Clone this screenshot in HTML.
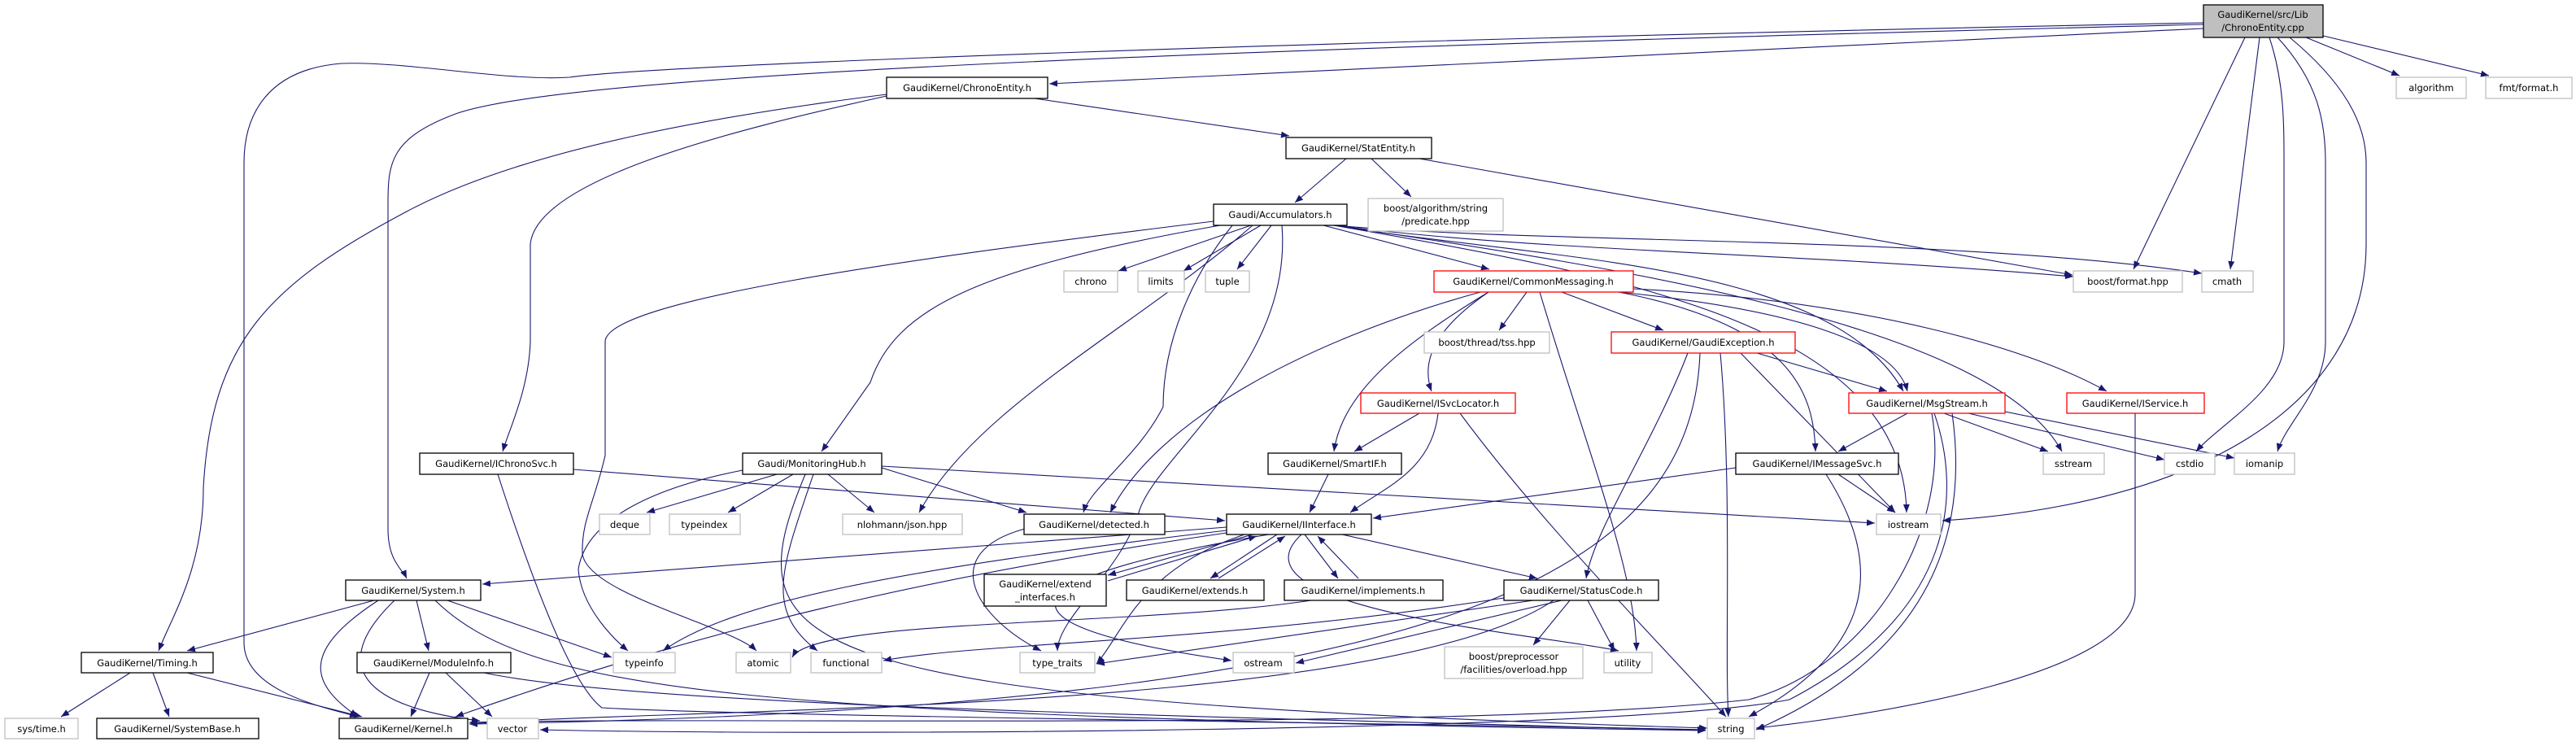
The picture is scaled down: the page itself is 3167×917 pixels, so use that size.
<!DOCTYPE html>
<html><head><meta charset="utf-8"><style>
html,body{margin:0;padding:0;background:#fff}
svg{display:block}
text{font-family:"DejaVu Sans","Liberation Sans",sans-serif;font-size:11.5px;fill:#000}
.e{fill:none;stroke:#191970;stroke-width:1.1}
.b{fill:#fff;stroke:#000;stroke-width:1.3}
.g{fill:#fff;stroke:#bfbfbf;stroke-width:1.3}
.r{fill:#fff;stroke:#ff0000;stroke-width:1.3}
</style></head><body>
<svg width="3167" height="917" viewBox="0 0 3167 917" xmlns="http://www.w3.org/2000/svg">
<defs><marker id="a" markerWidth="10" markerHeight="8" refX="10" refY="4" orient="auto" markerUnits="userSpaceOnUse"><path d="M0,0 L10,4 L0,8 z" fill="#191970"/></marker></defs>
<g class="e" marker-end="url(#a)">
<path d="M2709,35 L1290,103"/>
<path d="M2709,30 C1500,60 700,90 560,140 C480,170 477,200 477,250 L477,650 C477,690 495,700 500,711"/>
<path d="M2709,28 C1600,50 800,80 700,95 C620,100 500,75 420,78 C330,85 300,140 300,200 L300,790 C300,850 400,870 440,881"/>
<path d="M2760,46 L2623,331"/>
<path d="M2778,46 L2742,331"/>
<path d="M2790,46 C2808,100 2808,150 2808,200 L2808,420 C2808,480 2730,520 2700,555"/>
<path d="M2800,46 C2850,100 2859,150 2859,200 L2859,420 C2859,480 2810,520 2800,555"/>
<path d="M2815,46 C2880,100 2909,150 2909,200 L2909,300 C2909,500 2700,620 2388,640"/>
<path d="M2835,46 L2950,93"/>
<path d="M2856,44 L3060,93"/>
<path d="M1272,121 L1585,167"/>
<path d="M1090,116 C900,140 650,180 500,260 C330,350 260,420 250,600 C250,700 210,760 195,800"/>
<path d="M1090,118 C900,160 660,220 652,300 L652,420 C650,480 625,530 618,555"/>
<path d="M1655,195 L1592,249"/>
<path d="M1686,195 L1735,242"/>
<path d="M1745,195 L2548,338"/>
<path d="M1538,277 L1375,333"/>
<path d="M1550,277 L1455,333"/>
<path d="M1563,277 L1521,331"/>
<path d="M1627,277 L1831,331"/>
<path d="M1500,277 C1200,330 1100,380 1070,470 L1010,555"/>
<path d="M1492,272 C1100,320 745,370 744,420 L744,560 C730,620 715,640 716,680 C720,730 900,770 930,800"/>
<path d="M1515,277 C1465,340 1430,420 1430,500 C1400,560 1340,600 1332,630"/>
<path d="M1540,277 C1400,400 1200,500 1130,630"/>
<path d="M1576,277 C1590,450 1420,560 1400,630 C1380,700 1300,760 1300,800"/>
<path d="M1640,277 C1900,310 2200,310 2549,340"/>
<path d="M1640,277 C1900,300 2400,290 2707,336"/>
<path d="M1640,277 C1900,320 2250,320 2340,481"/>
<path d="M1640,277 C2000,330 2450,400 2535,555"/>
<path d="M1640,277 C2000,340 2340,400 2344,630"/>
<path d="M1877,359 L1843,406"/>
<path d="M1920,359 L2045,406"/>
<path d="M1830,359 C1770,400 1745,440 1760,481"/>
<path d="M1830,359 C1730,420 1650,480 1640,555"/>
<path d="M1990,359 C2200,380 2330,420 2345,481"/>
<path d="M1990,359 C2200,400 2230,480 2232,555"/>
<path d="M2008,355 C2300,370 2500,430 2590,481"/>
<path d="M1820,359 C1600,420 1420,520 1365,630"/>
<path d="M1893,359 C1950,550 2010,700 2012,800"/>
<path d="M2160,434 L2320,481"/>
<path d="M2075,434 C2030,550 1960,650 1950,711"/>
<path d="M2140,434 L2330,630"/>
<path d="M2115,434 C2130,600 2120,800 2125,881"/>
<path d="M2090,434 C2080,700 1800,870 577,890"/>
<path d="M1745,508 L1665,555"/>
<path d="M1768,508 C1760,580 1700,600 1660,630"/>
<path d="M1795,508 C1900,650 2050,800 2122,881"/>
<path d="M1633,583 L1610,630"/>
<path d="M2134,575 L1688,637"/>
<path d="M2260,583 L2330,630"/>
<path d="M2245,583 C2320,700 2300,800 2150,881"/>
<path d="M2345,508 L2260,555"/>
<path d="M2390,508 L2518,555"/>
<path d="M2420,508 L2661,565"/>
<path d="M2460,505 L2747,563"/>
<path d="M2400,508 C2420,650 2380,800 2159,897"/>
<path d="M2378,508 C2410,600 2410,750 2200,860 C2000,900 1000,905 664,897"/>
<path d="M2375,508 C2400,650 2300,820 2150,860 C1800,900 900,880 577,888"/>
<path d="M2625,508 L2625,730 C2625,830 2300,880 2159,895"/>
<path d="M955,583 L795,630"/>
<path d="M975,583 L895,630"/>
<path d="M1018,583 L1075,630"/>
<path d="M1084,575 L1262,630"/>
<path d="M913,578 C800,600 720,640 711,700 C715,750 760,790 772,800"/>
<path d="M1000,583 C960,700 940,750 1005,800"/>
<path d="M990,583 C900,800 950,860 2099,895"/>
<path d="M1084,573 L2305,643"/>
<path d="M705,577 L1506,640"/>
<path d="M612,583 C650,700 700,840 740,870 C900,880 1800,890 2097,897"/>
<path d="M1508,648 L593,718"/>
<path d="M1540,657 L1362,707"/>
<path d="M1362,714 L1545,659"/>
<path d="M1570,657 L1488,711"/>
<path d="M1498,711 L1580,659"/>
<path d="M1604,657 L1645,711"/>
<path d="M1670,711 L1620,659"/>
<path d="M1650,657 L1890,711"/>
<path d="M1530,657 C1400,700 1380,780 1348,816"/>
<path d="M1560,657 C1300,700 1150,760 1514,812"/>
<path d="M1508,652 C1100,700 900,740 815,800"/>
<path d="M1508,655 C1200,700 900,760 560,881"/>
<path d="M1600,657 C1500,750 1900,780 1990,800"/>
<path d="M1612,738 C1400,770 1000,760 974,808"/>
<path d="M1930,738 L1885,793"/>
<path d="M1952,738 L1985,800"/>
<path d="M1885,738 L1348,816"/>
<path d="M1920,738 L1593,815"/>
<path d="M1849,735 C1500,790 1200,790 1086,812"/>
<path d="M1910,738 C1700,880 800,870 577,890"/>
<path d="M1260,650 C1150,680 1200,760 1280,800"/>
<path d="M460,738 L230,800"/>
<path d="M512,738 L527,800"/>
<path d="M550,738 L752,808"/>
<path d="M465,738 C370,800 380,840 440,881"/>
<path d="M485,738 C400,820 450,870 590,886"/>
<path d="M535,738 C650,850 900,880 2097,898"/>
<path d="M160,827 L75,881"/>
<path d="M188,827 L208,881"/>
<path d="M230,827 L445,881"/>
<path d="M528,827 L505,881"/>
<path d="M548,827 L605,881"/>
<path d="M595,827 C800,870 1500,880 2097,898"/>
</g>
<g text-anchor="middle">
<rect x="2709" y="6" width="147" height="40" fill="#bfbfbf" stroke="#000" stroke-width="1.3"/><text x="2782" y="22">GaudiKernel/src/Lib</text><text x="2782" y="38">/ChronoEntity.cpp</text>
<rect class="b" x="1090" y="95" width="198" height="26"/><text x="1189" y="112">GaudiKernel/ChronoEntity.h</text>
<rect class="g" x="2946" y="95" width="86" height="26"/><text x="2989" y="112">algorithm</text>
<rect class="g" x="3056" y="95" width="106" height="26"/><text x="3109" y="112">fmt/format.h</text>
<rect class="b" x="1581" y="169" width="179" height="26"/><text x="1670" y="186">GaudiKernel/StatEntity.h</text>
<rect class="b" x="1492" y="251" width="164" height="26"/><text x="1574" y="268">Gaudi/Accumulators.h</text>
<rect class="g" x="1682" y="244" width="166" height="40"/><text x="1765" y="260">boost/algorithm/string</text><text x="1765" y="276">/predicate.hpp</text>
<rect class="g" x="2549" y="333" width="134" height="26"/><text x="2616" y="350">boost/format.hpp</text>
<rect class="g" x="2707" y="333" width="63" height="26"/><text x="2738" y="350">cmath</text>
<rect class="g" x="1308" y="333" width="66" height="26"/><text x="1341" y="350">chrono</text>
<rect class="g" x="1399" y="333" width="57" height="26"/><text x="1427" y="350">limits</text>
<rect class="g" x="1482" y="333" width="54" height="26"/><text x="1509" y="350">tuple</text>
<rect class="r" x="1763" y="333" width="245" height="26"/><text x="1885" y="350">GaudiKernel/CommonMessaging.h</text>
<rect class="g" x="1751" y="408" width="154" height="26"/><text x="1828" y="425">boost/thread/tss.hpp</text>
<rect class="r" x="1981" y="408" width="226" height="26"/><text x="2094" y="425">GaudiKernel/GaudiException.h</text>
<rect class="r" x="1673" y="483" width="190" height="25"/><text x="1768" y="500">GaudiKernel/ISvcLocator.h</text>
<rect class="r" x="2273" y="483" width="192" height="25"/><text x="2369" y="500">GaudiKernel/MsgStream.h</text>
<rect class="r" x="2541" y="483" width="169" height="25"/><text x="2625" y="500">GaudiKernel/IService.h</text>
<rect class="b" x="516" y="557" width="189" height="26"/><text x="610" y="574">GaudiKernel/IChronoSvc.h</text>
<rect class="b" x="913" y="557" width="171" height="26"/><text x="998" y="574">Gaudi/MonitoringHub.h</text>
<rect class="b" x="1559" y="557" width="164" height="26"/><text x="1641" y="574">GaudiKernel/SmartIF.h</text>
<rect class="b" x="2134" y="557" width="200" height="26"/><text x="2234" y="574">GaudiKernel/IMessageSvc.h</text>
<rect class="g" x="2512" y="557" width="75" height="26"/><text x="2549" y="574">sstream</text>
<rect class="g" x="2661" y="557" width="62" height="26"/><text x="2692" y="574">cstdio</text>
<rect class="g" x="2747" y="557" width="74" height="26"/><text x="2784" y="574">iomanip</text>
<rect class="g" x="737" y="632" width="62" height="25"/><text x="768" y="649">deque</text>
<rect class="g" x="823" y="632" width="87" height="25"/><text x="866" y="649">typeindex</text>
<rect class="g" x="1036" y="632" width="147" height="25"/><text x="1109" y="649">nlohmann/json.hpp</text>
<rect class="b" x="1259" y="632" width="173" height="25"/><text x="1345" y="649">GaudiKernel/detected.h</text>
<rect class="b" x="1508" y="632" width="178" height="25"/><text x="1597" y="649">GaudiKernel/IInterface.h</text>
<rect class="g" x="2307" y="632" width="79" height="25"/><text x="2346" y="649">iostream</text>
<rect class="b" x="425" y="713" width="166" height="25"/><text x="508" y="730">GaudiKernel/System.h</text>
<rect class="b" x="1210" y="706" width="150" height="39"/><text x="1285" y="722">GaudiKernel/extend</text><text x="1285" y="738">_interfaces.h</text>
<rect class="b" x="1385" y="713" width="169" height="25"/><text x="1469" y="730">GaudiKernel/extends.h</text>
<rect class="b" x="1579" y="713" width="195" height="25"/><text x="1676" y="730">GaudiKernel/implements.h</text>
<rect class="b" x="1849" y="713" width="190" height="25"/><text x="1944" y="730">GaudiKernel/StatusCode.h</text>
<rect class="b" x="100" y="802" width="162" height="25"/><text x="181" y="819">GaudiKernel/Timing.h</text>
<rect class="b" x="439" y="802" width="189" height="25"/><text x="533" y="819">GaudiKernel/ModuleInfo.h</text>
<rect class="g" x="754" y="802" width="76" height="25"/><text x="792" y="819">typeinfo</text>
<rect class="g" x="905" y="802" width="67" height="25"/><text x="938" y="819">atomic</text>
<rect class="g" x="997" y="802" width="87" height="25"/><text x="1040" y="819">functional</text>
<rect class="g" x="1254" y="802" width="92" height="25"/><text x="1300" y="819">type_traits</text>
<rect class="g" x="1516" y="802" width="75" height="25"/><text x="1553" y="819">ostream</text>
<rect class="g" x="1776" y="795" width="170" height="39"/><text x="1861" y="811">boost/preprocessor</text><text x="1861" y="827">/facilities/overload.hpp</text>
<rect class="g" x="1972" y="802" width="59" height="25"/><text x="2001" y="819">utility</text>
<rect class="g" x="6" y="883" width="90" height="25"/><text x="51" y="900">sys/time.h</text>
<rect class="b" x="119" y="883" width="199" height="25"/><text x="218" y="900">GaudiKernel/SystemBase.h</text>
<rect class="b" x="417" y="883" width="158" height="25"/><text x="496" y="900">GaudiKernel/Kernel.h</text>
<rect class="g" x="599" y="883" width="63" height="25"/><text x="630" y="900">vector</text>
<rect class="g" x="2099" y="883" width="58" height="25"/><text x="2128" y="900">string</text>
</g>
</svg>
</body></html>
